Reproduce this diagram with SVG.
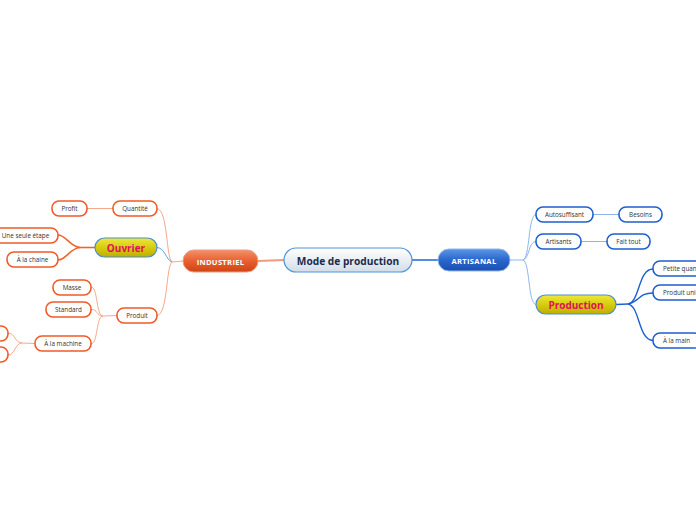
<svg xmlns="http://www.w3.org/2000/svg" width="696" height="520" viewBox="0 0 696 520">
<defs>
<linearGradient id="gC" x1="0" y1="0" x2="0" y2="1"><stop offset="0" stop-color="#ffffff"/><stop offset="1" stop-color="#d3dde8"/></linearGradient>
<linearGradient id="gO" x1="0" y1="0" x2="0" y2="1"><stop offset="0" stop-color="#f4906a"/><stop offset="0.5" stop-color="#e8602f"/><stop offset="1" stop-color="#cf4315"/></linearGradient>
<linearGradient id="gB" x1="0" y1="0" x2="0" y2="1"><stop offset="0" stop-color="#5a97e6"/><stop offset="0.5" stop-color="#2a66cc"/><stop offset="1" stop-color="#1a4fb0"/></linearGradient>
<linearGradient id="gY" x1="0" y1="0" x2="0" y2="1"><stop offset="0" stop-color="#eee83a"/><stop offset="0.5" stop-color="#d6cc10"/><stop offset="1" stop-color="#bfae00"/></linearGradient>
</defs>
<style>
text{font-family:"Open Sans","DejaVu Sans",sans-serif;text-anchor:middle;dominant-baseline:central}
.s{fill:#333;font-size:6.3px}
.on rect{fill:#fff;stroke:#f05a28;stroke-width:1.6}
.bn rect{fill:#fff;stroke:#1e5fd0;stroke-width:1.6}
.lo{fill:none;stroke:#f6a88a;stroke-width:1}
.lO{fill:none;stroke:#f0642e;stroke-width:1.6}
.lb{fill:none;stroke:#8fb6ec;stroke-width:1}
.lB{fill:none;stroke:#1e5fd0;stroke-width:1.4}
.yel rect{fill:url(#gY);stroke:#4a90d0;stroke-width:1.2}
.yel text{fill:#e0105a;font-weight:bold;font-size:10px}
</style>
<rect width="696" height="520" fill="#fff"/>
<g id="connectors">
<path d="M258,261 L284,260" stroke="#f39a7c" stroke-width="2" fill="none"/>
<path d="M412,260 L438,260" stroke="#4f8ee0" stroke-width="2" fill="none"/>
<path class="lo" d="M183,261 L172,262"/>
<path class="lo" d="M157,208.5 C168,210 166,258 172,262"/>
<path d="M157,247.5 C165,248 166,260 172,262" fill="none" stroke="#5b9bd5" stroke-width="1"/>
<path class="lo" d="M157,315.5 C168,314 166,266 172,262"/>
<path class="lo" d="M87,208.5 L113,208.5"/>
<path class="lO" d="M95,247.5 L80,247.5"/>
<path class="lO" d="M80,247.5 C70,247 66,235 58,235"/>
<path class="lO" d="M80,247.5 C70,248 66,260 58,260"/>
<path class="lo" d="M117,315.5 L103,316"/>
<path class="lo" d="M103,316 C96,316 98,287 91,287"/>
<path class="lo" d="M103,316 C96,316 98,309 91,309.5"/>
<path class="lo" d="M103,316 C96,316 98,344 91,344"/>
<path class="lo" d="M35,343.5 L22,343"/>
<path class="lo" d="M22,343 C15,343 15,333 8,333"/>
<path class="lo" d="M22,343 C15,343 15,355 8,355"/>
<path class="lb" d="M510,260 L523,260"/>
<path class="lb" d="M523,260 C530,258 528,215 536,214.5"/>
<path class="lb" d="M523,260 C530,258 528,242 536,241.5"/>
<path class="lb" d="M523,260 C530,262 528,304 536,304.5"/>
<path class="lb" d="M593,214.5 L619,214.5"/>
<path class="lb" d="M581,241.5 L607,241.5"/>
<path class="lB" d="M616,304.5 L628,304"/>
<path class="lB" d="M628,304 C640,302 638,269 653,269"/>
<path class="lB" d="M628,304 C640,302 638,293 653,293"/>
<path class="lB" d="M628,304 C640,306 638,340 653,340.5"/>
</g>
<g id="center"><rect x="284" y="248" width="128" height="24" rx="12" fill="url(#gC)" stroke="#4f95d6" stroke-width="1.2"/><text x="348" y="260.5" font-size="10.2" font-weight="bold" fill="#1b2a4a">Mode de production</text></g>
<g id="industriel"><rect x="183" y="250" width="75" height="22" rx="11" fill="url(#gO)" stroke="#f39a7c" stroke-width="1"/><text x="220.5" y="261.5" font-size="7.6" font-weight="bold" fill="#fff" letter-spacing="0.3">INDUSTRIEL</text></g>
<g id="artisanal"><rect x="438" y="249" width="72" height="22" rx="11" fill="url(#gB)" stroke="#8fb6ec" stroke-width="1"/><text x="474" y="260.5" font-size="7.6" font-weight="bold" fill="#fff" letter-spacing="0.3">ARTISANAL</text></g>
<g id="ouvrier" class="yel"><rect x="95" y="238" width="62" height="19" rx="9.5"/><text x="126" y="248">Ouvrier</text></g>
<g id="production" class="yel"><rect x="536" y="295" width="80" height="19" rx="9.5"/><text x="576" y="305">Production</text></g>
<g id="quantite" class="on"><rect x="113" y="201" width="44" height="15" rx="7"/><text class="s" x="135" y="208.5">Quantité</text></g>
<g id="profit" class="on"><rect x="52" y="201" width="35" height="15" rx="7"/><text class="s" x="69.5" y="208.5">Profit</text></g>
<g id="uneseule" class="on"><rect x="-8" y="228" width="66" height="15" rx="7"/><text class="s" x="25.5" y="235.5">Une seule étape</text></g>
<g id="chaine" class="on"><rect x="7" y="252" width="51" height="15" rx="7"/><text class="s" x="32.5" y="259.5">À la chaine</text></g>
<g id="produit" class="on"><rect x="117" y="308" width="40" height="15" rx="7"/><text class="s" x="137" y="315.5">Produit</text></g>
<g id="masse" class="on"><rect x="53" y="280" width="38" height="15" rx="7"/><text class="s" x="72" y="287.5">Masse</text></g>
<g id="standard" class="on"><rect x="46" y="302" width="45" height="15" rx="7"/><text class="s" x="68.5" y="309.5">Standard</text></g>
<g id="machine" class="on"><rect x="35" y="336" width="56" height="15" rx="7"/><text class="s" x="63" y="343.5">À la machine</text></g>
<g id="m1" class="on"><rect x="-40" y="326" width="48" height="15" rx="7"/></g>
<g id="m2" class="on"><rect x="-40" y="347" width="48" height="15" rx="7"/></g>
<g id="autosuffisant" class="bn"><rect x="536" y="207" width="57" height="15" rx="7"/><text class="s" x="564.5" y="214.5">Autosuffisant</text></g>
<g id="besoins" class="bn"><rect x="619" y="207" width="43" height="15" rx="7"/><text class="s" x="640.5" y="214.5">Besoins</text></g>
<g id="artisants" class="bn"><rect x="536" y="234" width="45" height="15" rx="7"/><text class="s" x="558.5" y="241.5">Artisants</text></g>
<g id="faittout" class="bn"><rect x="607" y="234" width="43" height="15" rx="7"/><text class="s" x="628.5" y="241.5">Fait tout</text></g>
<g id="petite" class="bn"><rect x="653" y="261" width="60" height="15" rx="7"/><text class="s" x="663" y="268.5" style="text-anchor:start">Petite quantité</text></g>
<g id="unique" class="bn"><rect x="653" y="285" width="60" height="15" rx="7"/><text class="s" x="663" y="292.5" style="text-anchor:start">Produit unique</text></g>
<g id="main" class="bn"><rect x="653" y="333" width="48" height="15" rx="7"/><text class="s" x="663" y="340.5" style="text-anchor:start">À la main</text></g>
</svg>
